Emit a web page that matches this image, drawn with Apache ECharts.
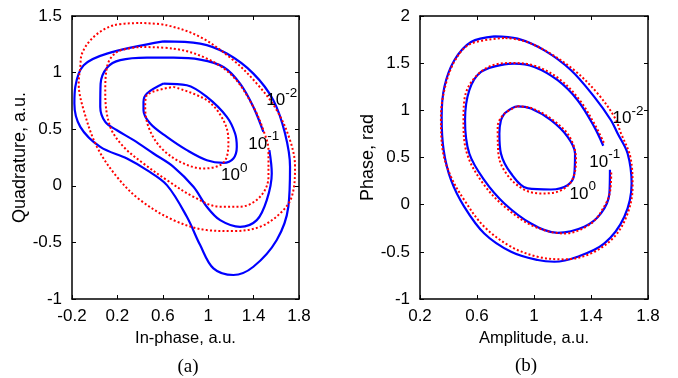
<!DOCTYPE html>
<html>
<head>
<meta charset="utf-8">
<script src="https://cdn.jsdelivr.net/npm/echarts@6/dist/echarts.min.js"></script>
<style>
html,body{margin:0;padding:0;background:#fff;}
#chart{width:678px;height:378px;}
</style>
</head>
<body>
<div id="chart"></div>
<script>
// ---- tick values ----
const xTicksA = [-0.2, 0.2, 0.6, 1, 1.4, 1.8];
const yTicksA = [-1, -0.5, 0, 0.5, 1, 1.5];
const xTicksB = [0.2, 0.6, 1, 1.4, 1.8];
const yTicksB = [-1, -0.5, 0, 0.5, 1, 1.5, 2];

// ---- panel (a): In-phase / Quadrature contours ----
const aBlue2 = [[0.606,1.276],[0.929,1.256],[1.164,1.168],[1.398,0.991],[1.574,0.756],[1.677,0.462],[1.721,0.168],[1.706,-0.185],[1.604,-0.479],[1.398,-0.715],[1.222,-0.788],[1.046,-0.729],[0.929,-0.524],[0.812,-0.274],[0.636,0.006],[0.460,0.138],[0.284,0.241],[0.049,0.344],[-0.127,0.521],[-0.179,0.726],[-0.171,0.874],[-0.097,1.065],[0.108,1.168],[0.606,1.276]];
const aBlue1 = [[1.539,0.315],[1.560,0.109],[1.516,-0.126],[1.428,-0.303],[1.281,-0.362],[1.105,-0.303],[0.988,-0.185],[0.870,-0.009],[0.694,0.168],[0.518,0.285],[0.343,0.403],[0.196,0.491],[0.093,0.565],[0.049,0.697],[0.052,0.900],[0.110,1.045],[0.225,1.110],[0.460,1.132],[0.694,1.132],[0.929,1.115],[1.134,1.050],[1.281,0.903],[1.398,0.697],[1.486,0.476]];
const aBlue0 = [[0.606,0.903],[0.812,0.888],[0.988,0.785],[1.164,0.609],[1.237,0.462],[1.252,0.344],[1.222,0.241],[1.134,0.203],[0.988,0.226],[0.812,0.315],[0.636,0.432],[0.489,0.550],[0.430,0.668],[0.430,0.740],[0.460,0.815],[0.606,0.903]];
const aRed2 = [[0.401,1.438],[0.636,1.418],[0.929,1.315],[1.222,1.109],[1.428,0.903],[1.604,0.668],[1.721,0.403],[1.765,0.168],[1.736,-0.097],[1.633,-0.244],[1.457,-0.362],[1.222,-0.400],[0.988,-0.391],[0.694,-0.303],[0.401,-0.126],[0.196,0.079],[0.020,0.344],[-0.097,0.668],[-0.141,0.903],[-0.127,1.050],[-0.112,1.168],[-0.009,1.315],[0.167,1.418],[0.401,1.438]];
const aRed1 = [[0.401,1.226],[0.694,1.212],[0.988,1.124],[1.222,0.962],[1.398,0.697],[1.486,0.491],[1.531,0.315],[1.531,0.079],[1.457,-0.097],[1.281,-0.185],[1.105,-0.185],[0.870,-0.097],[0.636,0.050],[0.430,0.197],[0.255,0.344],[0.137,0.521],[0.093,0.815],[0.108,1.050],[0.196,1.182],[0.401,1.226]];
const aRed0 = [[0.694,0.874],[0.988,0.756],[1.134,0.579],[1.178,0.403],[1.164,0.256],[1.105,0.182],[0.958,0.153],[0.753,0.212],[0.577,0.344],[0.474,0.521],[0.445,0.697],[0.460,0.800],[0.694,0.874]];
const aLabels = [[1.648,0.78,'-2'],[1.490,0.396,'-1'],[1.229,0.117,'0']];

// ---- panel (b): Amplitude / Phase contours ----
const bBlue2 = [[0.722,1.785],[0.885,1.760],[1.073,1.636],[1.260,1.425],[1.423,1.142],[1.540,0.895],[1.587,0.754],[1.657,0.542],[1.685,0.224],[1.634,-0.128],[1.494,-0.411],[1.306,-0.552],[1.143,-0.605],[1.026,-0.587],[0.839,-0.499],[0.651,-0.305],[0.511,-0.023],[0.418,0.260],[0.366,0.577],[0.352,0.930],[0.371,1.248],[0.441,1.531],[0.558,1.725],[0.722,1.785]];
const bBlue1 = [[1.533,0.370],[1.529,0.119],[1.470,-0.093],[1.353,-0.234],[1.166,-0.298],[0.979,-0.199],[0.792,0.013],[0.651,0.260],[0.546,0.542],[0.516,0.895],[0.546,1.213],[0.628,1.407],[0.792,1.488],[0.862,1.495],[1.002,1.460],[1.166,1.319],[1.306,1.107],[1.423,0.825],[1.486,0.625]];
const bBlue0 = [[0.792,0.966],[0.885,1.043],[0.979,1.019],[1.119,0.895],[1.236,0.719],[1.288,0.542],[1.283,0.330],[1.236,0.207],[1.119,0.161],[0.956,0.172],[0.839,0.330],[0.768,0.542],[0.757,0.754],[0.768,0.895],[0.792,0.966]];
const bRed2 = [[0.800,1.767],[0.932,1.735],[1.096,1.619],[1.283,1.425],[1.447,1.178],[1.564,0.930],[1.611,0.754],[1.676,0.507],[1.692,0.189],[1.657,-0.093],[1.564,-0.340],[1.400,-0.517],[1.213,-0.580],[1.026,-0.552],[0.839,-0.446],[0.651,-0.234],[0.511,0.048],[0.418,0.295],[0.359,0.577],[0.347,0.930],[0.382,1.283],[0.453,1.548],[0.558,1.707],[0.800,1.767]];
const bRed1 = [[1.542,0.340],[1.535,0.150],[1.500,0.000],[1.400,-0.200],[1.213,-0.305],[1.000,-0.230],[0.800,-0.030],[0.640,0.230],[0.530,0.540],[0.505,0.880],[0.511,1.107],[0.560,1.300],[0.680,1.460],[0.839,1.502],[1.010,1.470],[1.180,1.330],[1.320,1.110],[1.430,0.840],[1.492,0.650]];
const bRed0 = [[0.885,1.043],[0.990,1.020],[1.130,0.900],[1.250,0.720],[1.295,0.472],[1.260,0.242],[1.150,0.130],[1.049,0.119],[0.930,0.160],[0.810,0.320],[0.750,0.540],[0.745,0.825],[0.790,0.960],[0.885,1.043]];
const bLabels = [[1.660,0.945,'-2'],[1.497,0.485,'-1'],[1.342,0.145,'0']];

const FONT = '"Liberation Sans", Arial, sans-serif';
const BLUE = '#0000ff';
const RED = '#ff0000';

function xAxes(grid, min, max, ticks, name) {
  const base = {
    gridIndex: grid, type: 'value', min: min, max: max,
    splitLine: {show: false},
    axisLine: {show: true, onZero: false, lineStyle: {color: '#000', width: 1.5}},
    axisTick: {show: true, inside: true, length: 4, customValues: ticks, lineStyle: {color: '#000', width: 1}}
  };
  return [
    Object.assign({}, base, {
      position: 'bottom', name: name, nameLocation: 'middle', nameGap: 27,
      nameTextStyle: {fontFamily: FONT, fontSize: 16.5, color: '#000'},
      axisLabel: {show: true, customValues: ticks, margin: 9, fontFamily: FONT, fontSize: 17, color: '#000', formatter: v => String(+v.toFixed(2))}
    }),
    Object.assign({}, base, {position: 'top', axisLabel: {show: false}})
  ];
}
function yAxes(grid, min, max, ticks, name, gap) {
  const base = {
    gridIndex: grid, type: 'value', min: min, max: max,
    splitLine: {show: false},
    axisLine: {show: true, onZero: false, lineStyle: {color: '#000', width: 1.5}},
    axisTick: {show: true, inside: true, length: 4, customValues: ticks, lineStyle: {color: '#000', width: 1}}
  };
  return [
    Object.assign({}, base, {
      position: 'left', name: name, nameLocation: 'middle', nameGap: gap, nameRotate: 90,
      nameTextStyle: {fontFamily: FONT, fontSize: 18, color: '#000'},
      axisLabel: {show: true, customValues: ticks, margin: 10, fontFamily: FONT, fontSize: 17, color: '#000', formatter: v => String(+v.toFixed(2))}
    }),
    Object.assign({}, base, {position: 'right', axisLabel: {show: false}})
  ];
}

function curve(data, xi, yi, color, dotted) {
  return {
    type: 'line', xAxisIndex: xi, yAxisIndex: yi, data: data,
    showSymbol: false, symbol: 'none', smooth: 0.35, silent: true,
    lineStyle: dotted ? {color: color, width: 2, type: [2, 2.2]} : {color: color, width: 2.2},
    z: dotted ? 3 : 2
  };
}
function labels(data, xi, yi) {
  return {
    type: 'scatter', xAxisIndex: xi, yAxisIndex: yi, data: data,
    symbol: 'circle', symbolSize: 2, itemStyle: {color: 'rgba(255,255,255,0)'}, silent: true, z: 10,
    label: {
      show: true, position: 'inside', opacity: 1,
      formatter: p => '{n|10}{s|' + p.data[2] + '}',
      rich: {
        n: {fontFamily: FONT, fontSize: 17, color: '#000', verticalAlign: 'bottom', lineHeight: 23},
        s: {fontFamily: FONT, fontSize: 13.5, color: '#000', verticalAlign: 'top', lineHeight: 23}
      }
    },
    labelLayout: {hideOverlap: false}
  };
}

const chart = echarts.init(document.getElementById('chart'), null, {renderer: 'canvas'});
chart.setOption({
  animation: false,
  backgroundColor: '#fff',
  grid: [
    {left: 72, top: 16, width: 227, height: 283},
    {left: 420, top: 16, width: 228, height: 283}
  ],
  xAxis: [].concat(xAxes(0, -0.2, 1.8, xTicksA, 'In-phase, a.u.'), xAxes(1, 0.2, 1.8, xTicksB, 'Amplitude, a.u.')),
  yAxis: [].concat(yAxes(0, -1, 1.5, yTicksA, 'Quadrature, a.u.', 37), yAxes(1, -1, 2, yTicksB, 'Phase, rad', 38)),
  series: [
    curve(aRed2, 0, 0, RED, true), curve(aRed1, 0, 0, RED, true), curve(aRed0, 0, 0, RED, true),
    curve(aBlue2, 0, 0, BLUE, false), curve(aBlue1, 0, 0, BLUE, false), curve(aBlue0, 0, 0, BLUE, false),
    labels(aLabels, 0, 0),
    curve(bRed2, 2, 2, RED, true), curve(bRed1, 2, 2, RED, true), curve(bRed0, 2, 2, RED, true),
    curve(bBlue2, 2, 2, BLUE, false), curve(bBlue1, 2, 2, BLUE, false), curve(bBlue0, 2, 2, BLUE, false),
    labels(bLabels, 2, 2)
  ],
  graphic: [
    {type: 'text', x: 188, y: 367, style: {text: '(a)', font: '19px "Liberation Serif", "Times New Roman", serif', fill: '#000', textAlign: 'center', textVerticalAlign: 'middle'}},
    {type: 'text', x: 526, y: 366, style: {text: '(b)', font: '19px "Liberation Serif", "Times New Roman", serif', fill: '#000', textAlign: 'center', textVerticalAlign: 'middle'}}
  ]
});
</script>
</body>
</html>
